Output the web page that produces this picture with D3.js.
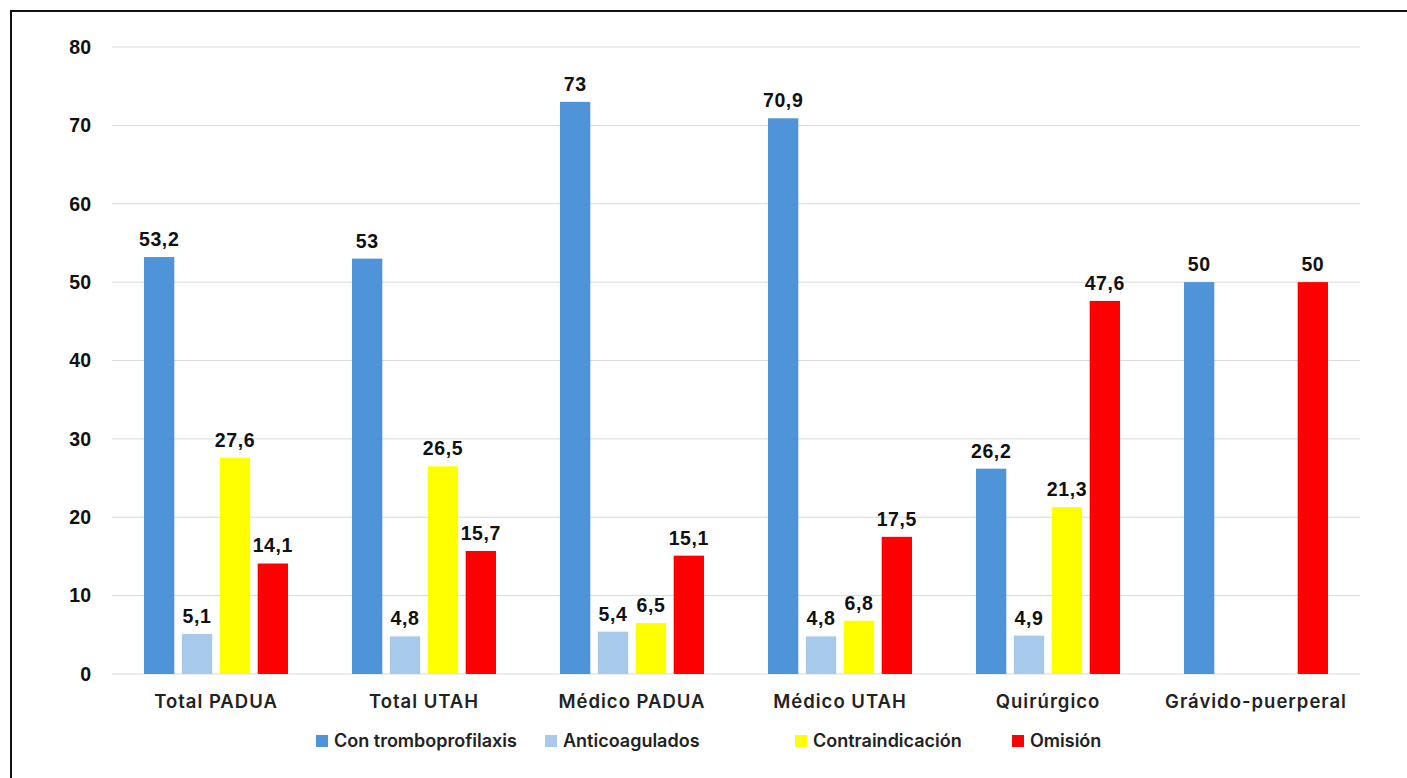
<!DOCTYPE html>
<html>
<head>
<meta charset="utf-8">
<script src="https://cdn.jsdelivr.net/npm/d3@7"></script>
<style>
  body { margin: 0; background: #fff; }
  svg { display: block; }
</style>
</head>
<body>
<svg id="chart" width="1407" height="778"></svg>
<script>
'use strict';

const CATEGORIES = ['Total PADUA', 'Total UTAH', 'Médico PADUA', 'Médico UTAH', 'Quirúrgico', 'Grávido-puerperal'];
const SERIES = ['Con tromboprofilaxis', 'Anticoagulados', 'Contraindicación', 'Omisión'];
const COLORS = ['#4f94d9', '#a6c9ec', '#ffff00', '#ff0000'];
const CON_TROMBO = [53.2, 53, 73, 70.9, 26.2, 50];
const ANTICOAG = [5.1, 4.8, 5.4, 4.8, 4.9, null];
const CONTRAIND = [27.6, 26.5, 6.5, 6.8, 21.3, null];
const OMISION = [14.1, 15.7, 15.1, 17.5, 47.6, 50];
const Y_TICKS = [0, 10, 20, 30, 40, 50, 60, 70, 80];

const VALUES = [CON_TROMBO, ANTICOAG, CONTRAIND, OMISION];
const NUM_FONT = 'Liberation Sans, Arial, sans-serif';
const TXT_FONT = 'Inter, Lato, sans-serif';

const svg = d3.select('#chart');

// frame
svg.append('rect')
   .attr('x', 11).attr('y', 11)
   .attr('width', 1407).attr('height', 800)
   .attr('fill', 'none')
   .attr('stroke', '#111')
   .attr('stroke-width', 2);

const MARGINS = {left: 112, right: 1360, top: 47, bottom: 674};

const x = d3.scaleBand()
            .domain(CATEGORIES)
            .range([MARGINS.left, MARGINS.right]);
const xs = d3.scaleBand()
             .domain(SERIES)
             .range([0, 144])
             .paddingInner(0.2);
const y = d3.scaleLinear()
            .domain([0, 80])
            .range([MARGINS.bottom, MARGINS.top]);

// gridlines
svg.append('g')
   .selectAll('line')
   .data(Y_TICKS)
   .join('line')
   .attr('x1', MARGINS.left)
   .attr('x2', MARGINS.right)
   .attr('y1', d => y(d))
   .attr('y2', d => y(d))
   .attr('stroke', '#d9d9d9')
   .attr('stroke-width', 1);

// y axis labels
const yAxis = svg.append('g')
   .attr('transform', 'translate(' + (MARGINS.left - 21) + ',0)')
   .call(d3.axisLeft(y).tickValues(Y_TICKS).tickSize(0).tickPadding(0));
yAxis.select('.domain').remove();
yAxis.selectAll('text')
     .attr('font-family', NUM_FONT)
     .attr('font-weight', 'bold')
     .attr('font-size', 19.5)
     .attr('fill', '#111');

// bars
const rows = [];
CATEGORIES.map((cat, i) => {
  SERIES.map((s, j) => {
    const v = VALUES[j][i];
    if (v != null) rows.push({cat, s, v, color: COLORS[j]});
  });
});

const groupOffset = (x.bandwidth() - 144) / 2;

svg.append('g')
   .selectAll('rect')
   .data(rows)
   .join('rect')
   .attr('x', d => x(d.cat) + groupOffset + xs(d.s))
   .attr('y', d => y(d.v))
   .attr('width', xs.bandwidth())
   .attr('height', d => y(0) - y(d.v))
   .attr('fill', d => d.color);

// value labels
svg.append('g')
   .selectAll('text')
   .data(rows)
   .join('text')
   .attr('x', d => x(d.cat) + groupOffset + xs(d.s) + xs.bandwidth() / 2)
   .attr('y', d => y(d.v) - 11)
   .attr('text-anchor', 'middle')
   .attr('font-family', NUM_FONT)
   .attr('font-weight', 'bold')
   .attr('font-size', 19.5)
   .attr('letter-spacing', 0.6)
   .attr('fill', '#111')
   .text(d => String(d.v).replace('.', ','));

// category labels
const xAxis = svg.append('g')
   .attr('transform', 'translate(0,' + (MARGINS.bottom + 21) + ')')
   .call(d3.axisBottom(x).tickSize(0).tickPadding(0));
xAxis.select('.domain').remove();
xAxis.selectAll('text')
     .attr('font-family', TXT_FONT)
     .attr('font-weight', 600)
     .attr('font-size', 18.5)
     .attr('letter-spacing', 1)
     .attr('fill', '#222');

// legend
const LEGEND_X = [316, 545, 795, 1012];
const legend = svg.append('g')
   .selectAll('g')
   .data(SERIES)
   .join('g')
   .attr('transform', (d, i) => 'translate(' + LEGEND_X[i] + ',741)');
legend.append('rect')
      .attr('x', 0).attr('y', -6)
      .attr('width', 12).attr('height', 12)
      .attr('fill', (d, i) => COLORS[i]);
legend.append('text')
      .attr('x', 18)
      .attr('dy', '0.36em')
      .attr('font-family', TXT_FONT)
      .attr('font-weight', 600)
      .attr('font-size', 18)
      .attr('fill', '#222')
      .text(d => d);
</script>
</body>
</html>
